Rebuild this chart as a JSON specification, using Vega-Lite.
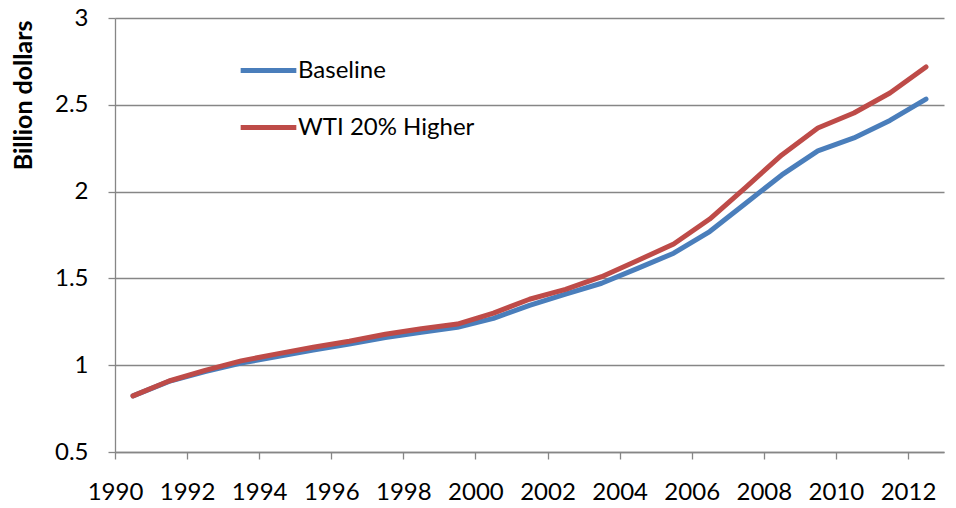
{
  "$schema": "https://vega.github.io/schema/vega-lite/v6.json",
  "autosize": "none",
  "padding": {"left": 115, "top": 18, "right": 12, "bottom": 56},
  "width": 829,
  "height": 434,
  "background": "white",
  "config": {
    "font": "Lato",
    "view": {"stroke": null},
    "axis": {
      "labelFont": "Lato",
      "labelFontSize": 24,
      "labelColor": "black",
      "domainColor": "#868686",
      "tickColor": "#868686",
      "gridColor": "#868686",
      "domainWidth": 1.3,
      "tickWidth": 1.3,
      "gridWidth": 1.3,
      "tickSize": 7
    }
  },
  "data": {
    "values": [
      {"year": 1990, "series": "Baseline", "value": 0.823},
      {"year": 1991, "series": "Baseline", "value": 0.907},
      {"year": 1992, "series": "Baseline", "value": 0.963},
      {"year": 1993, "series": "Baseline", "value": 1.012},
      {"year": 1994, "series": "Baseline", "value": 1.05},
      {"year": 1995, "series": "Baseline", "value": 1.088},
      {"year": 1996, "series": "Baseline", "value": 1.122},
      {"year": 1997, "series": "Baseline", "value": 1.16},
      {"year": 1998, "series": "Baseline", "value": 1.19},
      {"year": 1999, "series": "Baseline", "value": 1.218},
      {"year": 2000, "series": "Baseline", "value": 1.27},
      {"year": 2001, "series": "Baseline", "value": 1.345},
      {"year": 2002, "series": "Baseline", "value": 1.41},
      {"year": 2003, "series": "Baseline", "value": 1.472},
      {"year": 2004, "series": "Baseline", "value": 1.558},
      {"year": 2005, "series": "Baseline", "value": 1.645},
      {"year": 2006, "series": "Baseline", "value": 1.77},
      {"year": 2007, "series": "Baseline", "value": 1.933},
      {"year": 2008, "series": "Baseline", "value": 2.096},
      {"year": 2009, "series": "Baseline", "value": 2.235},
      {"year": 2010, "series": "Baseline", "value": 2.309},
      {"year": 2011, "series": "Baseline", "value": 2.41},
      {"year": 2012, "series": "Baseline", "value": 2.533},
      {"year": 1990, "series": "WTI 20% Higher", "value": 0.823},
      {"year": 1991, "series": "WTI 20% Higher", "value": 0.909},
      {"year": 1992, "series": "WTI 20% Higher", "value": 0.97},
      {"year": 1993, "series": "WTI 20% Higher", "value": 1.025},
      {"year": 1994, "series": "WTI 20% Higher", "value": 1.065},
      {"year": 1995, "series": "WTI 20% Higher", "value": 1.103},
      {"year": 1996, "series": "WTI 20% Higher", "value": 1.138},
      {"year": 1997, "series": "WTI 20% Higher", "value": 1.178},
      {"year": 1998, "series": "WTI 20% Higher", "value": 1.21},
      {"year": 1999, "series": "WTI 20% Higher", "value": 1.237},
      {"year": 2000, "series": "WTI 20% Higher", "value": 1.3},
      {"year": 2001, "series": "WTI 20% Higher", "value": 1.38},
      {"year": 2002, "series": "WTI 20% Higher", "value": 1.437},
      {"year": 2003, "series": "WTI 20% Higher", "value": 1.51},
      {"year": 2004, "series": "WTI 20% Higher", "value": 1.603},
      {"year": 2005, "series": "WTI 20% Higher", "value": 1.698},
      {"year": 2006, "series": "WTI 20% Higher", "value": 1.842},
      {"year": 2007, "series": "WTI 20% Higher", "value": 2.025},
      {"year": 2008, "series": "WTI 20% Higher", "value": 2.211},
      {"year": 2009, "series": "WTI 20% Higher", "value": 2.366},
      {"year": 2010, "series": "WTI 20% Higher", "value": 2.453},
      {"year": 2011, "series": "WTI 20% Higher", "value": 2.568},
      {"year": 2012, "series": "WTI 20% Higher", "value": 2.718}
    ]
  },
  "mark": {"type": "line", "strokeWidth": 5, "strokeCap": "round", "strokeJoin": "round"},
  "encoding": {
    "x": {
      "field": "year",
      "type": "quantitative",
      "scale": {"domain": [1989.5, 2012.5], "nice": false, "zero": false},
      "axis": {
        "title": null,
        "grid": false,
        "values": [1990, 1992, 1994, 1996, 1998, 2000, 2002, 2004, 2006, 2008, 2010, 2012],
        "format": "d",
        "tickOffset": -18,
        "labelPadding": 21,
        "labelFlush": false
      }
    },
    "y": {
      "field": "value",
      "type": "quantitative",
      "scale": {"domain": [0.5, 3], "nice": false, "zero": false},
      "axis": {
        "title": "Billion dollars",
        "titleFont": "Lato",
        "titleFontSize": 25,
        "titleFontWeight": "bold",
        "titleColor": "black",
        "titleAnchor": "end",
        "titleAlign": "right",
        "titleX": -84,
        "titleY": 2,
        "titleBaseline": "alphabetic",
        "values": [0.5, 1, 1.5, 2, 2.5, 3],
        "format": "~g",
        "labelPadding": 20
      }
    },
    "color": {
      "field": "series",
      "type": "nominal",
      "scale": {"domain": ["Baseline", "WTI 20% Higher"], "range": ["#4a7ebb", "#be4b48"]},
      "legend": {
        "title": null,
        "orient": "none",
        "legendX": 123,
        "legendY": 22,
        "padding": 0,
        "symbolType": "stroke",
        "symbolSize": 3100,
        "symbolStrokeWidth": 5,
        "labelFont": "Lato",
        "labelFontSize": 24,
        "labelColor": "black",
        "labelOffset": -1,
        "labelLimit": 400,
        "rowPadding": 14
      }
    }
  }
}
